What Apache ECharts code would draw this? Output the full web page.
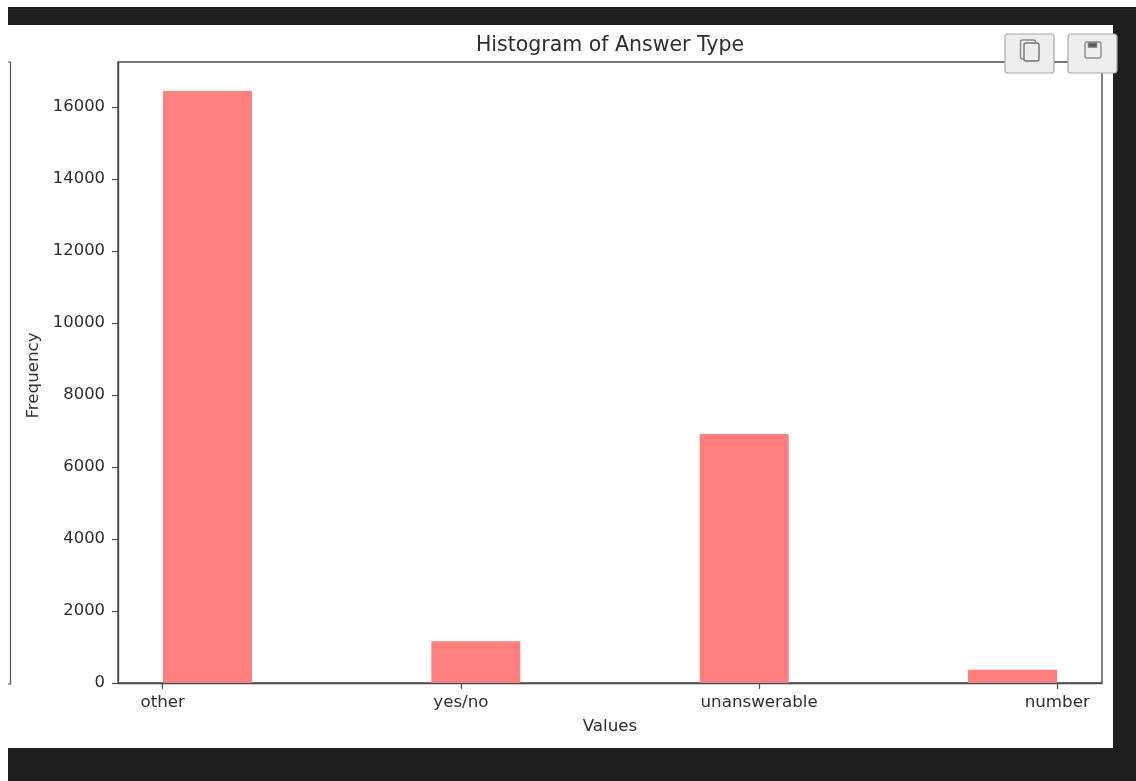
<!DOCTYPE html>
<html><head><meta charset="utf-8">
<style>html,body{margin:0;padding:0;background:#fff}#c{width:1136px;height:781px}</style>
<script src="https://cdn.jsdelivr.net/npm/echarts@6/dist/echarts.min.js"></script>
</head><body><div id="c"></div>
<script>
const categories = ['other', 'yes/no', 'unanswerable', 'number'];
const categoryTicks = [0, 1, 2, 3];
const binCenters = [0.15, 1.05, 1.95, 2.85];
const frequencies = [16445, 1160, 6915, 370];
const titleText = 'Histogram of Answer Type';
const xName = 'Values';
const yName = 'Frequency';

const FONT = '"DejaVu Sans"';
const TEXT = '#2e2e2e', AXIS = '#4a4a4a', DARK = '#1e1e1e';
const chart = echarts.init(document.getElementById('c'), null, {renderer: 'canvas'});
const btn = (x) => ({type: 'rect', z: 100, shape: {x, y: 34, width: 49, height: 39, r: 3},
  style: {fill: '#eeeeee', stroke: '#a8a8a8', lineWidth: 1.2}});
const ico = (shape, fill, stroke) => ({type: 'rect', z: 101, shape, style: {fill: fill, stroke: stroke, lineWidth: 1.4}});
chart.setOption({
  animation: false,
  backgroundColor: '#ffffff',
  title: {text: titleText, left: 605, top: 30, textAlign: 'center',
    textStyle: {fontFamily: FONT, fontSize: 20.5, fontWeight: 'normal', color: TEXT}},
  grid: {left: 118, right: 34, top: 62, bottom: 98, show: true, borderColor: AXIS, borderWidth: 1.4, backgroundColor: '#fff'},
  xAxis: {type: 'value', min: -0.15, max: 3.15, name: xName, nameLocation: 'middle', nameGap: 35,
    nameTextStyle: {fontFamily: FONT, fontSize: 16.7, color: TEXT},
    splitLine: {show: false},
    axisLine: {show: true, onZero: false, lineStyle: {color: AXIS, width: 1.4}},
    axisTick: {show: true, length: 6, customValues: categoryTicks, lineStyle: {color: AXIS, width: 1.2}},
    axisLabel: {fontFamily: FONT, fontSize: 16.7, color: TEXT, margin: 11, hideOverlap: false,
      customValues: categoryTicks, formatter: (v) => categories[Math.round(v)]}},
  yAxis: {type: 'value', min: 0, max: 17250, interval: 2000, name: yName, nameLocation: 'middle', nameGap: 70,
    nameTextStyle: {fontFamily: FONT, fontSize: 16.7, color: TEXT, padding: [0, 6, 0, 0]},
    splitLine: {show: false},
    axisLine: {show: true, onZero: false, lineStyle: {color: AXIS, width: 1.4}},
    axisTick: {show: true, length: 6, lineStyle: {color: AXIS, width: 1.2}},
    axisLabel: {fontFamily: FONT, fontSize: 16.4, color: TEXT, margin: 13, showMaxLabel: false, formatter: (v) => String(v)}},
  series: [{type: 'bar', barWidth: 89, z: 3,
    itemStyle: {color: '#ff7f7f'},
    data: binCenters.map((c, i) => [c, frequencies[i]])}],
  graphic: [
    {type: 'rect', z: 50, shape: {x: 8, y: 7, width: 1128, height: 18}, style: {fill: DARK}},
    {type: 'rect', z: 50, shape: {x: 1113, y: 7, width: 23, height: 774}, style: {fill: DARK}},
    {type: 'rect', z: 50, shape: {x: 8, y: 748, width: 1128, height: 33}, style: {fill: DARK}},
    {type: 'line', z: 50, shape: {x1: 8, y1: 9.5, x2: 1136, y2: 9.5}, style: {stroke: '#2c2c2c', lineWidth: 1}},
    {type: 'polyline', z: 50, shape: {points: [[8, 62], [10.5, 62], [10.5, 684], [8, 684]]}, style: {fill: null, stroke: '#555', lineWidth: 1.2}},
    btn(1005), btn(1068),
    ico({x: 1020.5, y: 40, width: 15, height: 19, r: 2}, '#eeeeee', '#8a8a8a'),
    ico({x: 1024, y: 43, width: 15, height: 18, r: 2}, '#eeeeee', '#777777'),
    ico({x: 1085, y: 42, width: 16, height: 16, r: 2}, '#eeeeee', '#8a8a8a'),
    ico({x: 1088.5, y: 43, width: 8, height: 4}, '#555555', '#777777')
  ]
});
</script></body></html>
